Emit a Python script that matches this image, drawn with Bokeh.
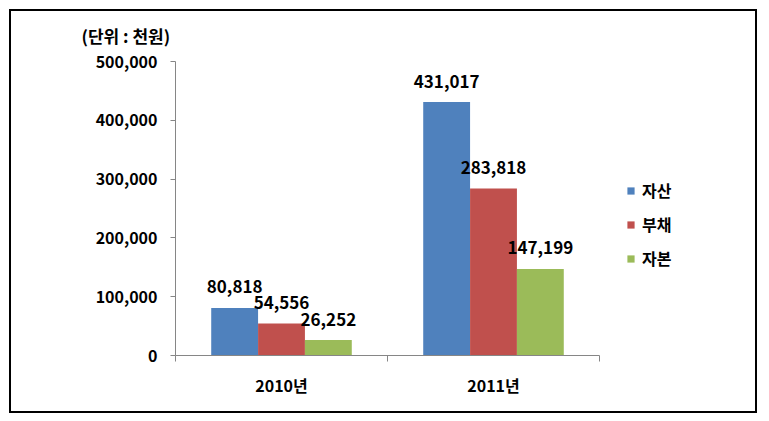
from bokeh.plotting import figure
from bokeh.models import (Range1d, LinearAxis, FixedTicker,
                          NumeralTickFormatter, Legend, LegendItem, Title,
                          ColumnDataSource)
from bokeh.transform import dodge
from bokeh.core.properties import value
from bokeh.embed import file_html
from bokeh.resources import INLINE

years = ["2010년", "2011년"]
series = ["자산", "부채", "자본"]
assets = [80818, 431017]
debts = [54556, 283818]
equity = [26252, 147199]
colors = ["#4F81BD", "#C0504D", "#9BBB59"]
y_ticks = [0, 100000, 200000, 300000, 400000, 500000]
unit_title = "(단위 : 천원)"

FONT = "Noto Sans CJK KR"
AXIS_GRAY = "#868686"

n_cat = len(years)
x_centers = [i + 0.5 for i in range(n_cat)]      # category slot centres
src = ColumnDataSource(dict(x=x_centers, s0=assets, s1=debts, s2=equity,
                            l0=[f"{v:,}" for v in assets],
                            l1=[f"{v:,}" for v in debts],
                            l2=[f"{v:,}" for v in equity]))

W, H = 748, 404
LEFT, RIGHT, TOP, BOTTOM = 166, 8, 52, 58
cat_px = 424                                      # pixel width of the category area
x_end = n_cat * (W - LEFT - RIGHT) / cat_px       # leave room on the right for the legend

p = figure(x_range=Range1d(0, x_end), y_range=Range1d(0, 500000),
           width=W, height=H, output_backend="svg", toolbar_location=None,
           x_axis_location=None, y_axis_location=None,
           min_border_left=LEFT, min_border_right=RIGHT, min_border_top=TOP, min_border_bottom=BOTTOM,
           background_fill_color="white", border_fill_color="white")
p.border_fill_alpha = 0
p.margin = (9, 9, 9, 9)
p.outline_line_color = None
p.xgrid.visible = False
p.ygrid.visible = False
p.styles = {"outline": "2px solid black", "outline-offset": "-2px",
            "box-shadow": "inset 0 0 0 2px black"}

# y axis
yax = LinearAxis(ticker=FixedTicker(ticks=y_ticks), formatter=NumeralTickFormatter(format="0,0"))
yax.axis_line_color = AXIS_GRAY
yax.major_tick_line_color = AXIS_GRAY
yax.major_tick_out = 5
yax.major_tick_in = 0
yax.minor_tick_line_color = None
yax.major_label_standoff = 13
yax.major_label_text_font = FONT
yax.major_label_text_font_style = "bold"
yax.major_label_text_font_size = "16px"
yax.major_label_text_color = "black"
p.add_layout(yax, "left")

# x axis line with tick marks at the category boundaries
tax = LinearAxis(ticker=FixedTicker(ticks=list(range(n_cat + 1))), bounds=(0, n_cat),
                 major_label_overrides={i: "" for i in range(n_cat + 1)})
tax.axis_line_color = AXIS_GRAY
tax.major_tick_line_color = AXIS_GRAY
tax.major_tick_out = 6
tax.major_tick_in = 0
tax.minor_tick_line_color = None
tax.major_label_standoff = 0
tax.major_label_text_font_size = "1px"
p.add_layout(tax, "below")

# category labels
cax = LinearAxis(ticker=FixedTicker(ticks=x_centers),
                 major_label_overrides={x: y for x, y in zip(x_centers, years)})
cax.axis_line_color = None
cax.major_tick_line_color = None
cax.minor_tick_line_color = None
cax.major_tick_out = 0
cax.major_label_standoff = 11
cax.major_label_text_font = FONT
cax.major_label_text_font_style = "bold"
cax.major_label_text_font_size = "16px"
cax.major_label_text_color = "black"
p.add_layout(cax, "below")

offsets = [-0.221, 0.0, 0.221]
bw = 0.221
items = []
for i, name in enumerate(series):
    r = p.vbar(x=dodge("x", offsets[i]), top=f"s{i}", width=bw,
               source=src, fill_color=colors[i], line_color=None)
    items.append(LegendItem(label=name, renderers=[r]))
    p.text(x=dodge("x", offsets[i]), y=f"s{i}", text=f"l{i}",
           source=src, text_align="center", text_baseline="alphabetic", y_offset=-21,
           text_font=value(FONT), text_font_style="bold", text_font_size="17px",
           text_color="black")

legend = Legend(items=items, location=(451, 85))
legend.background_fill_alpha = 0
legend.border_line_color = None
legend.padding = 0
legend.margin = 0
legend.glyph_width = 9
legend.glyph_height = 9
legend.label_height = 20
legend.spacing = 10
legend.label_standoff = 7
legend.label_text_font = FONT
legend.label_text_font_style = "bold"
legend.label_text_font_size = "16px"
legend.label_text_color = "black"
p.add_layout(legend, "center")

p.title = Title(text=unit_title, align="left", offset=-94, standoff=23, vertical_align="top",
                text_font=FONT, text_font_style="bold", text_font_size="17px",
                text_color="black")

open("out.html", "w").write(file_html(p, INLINE))
